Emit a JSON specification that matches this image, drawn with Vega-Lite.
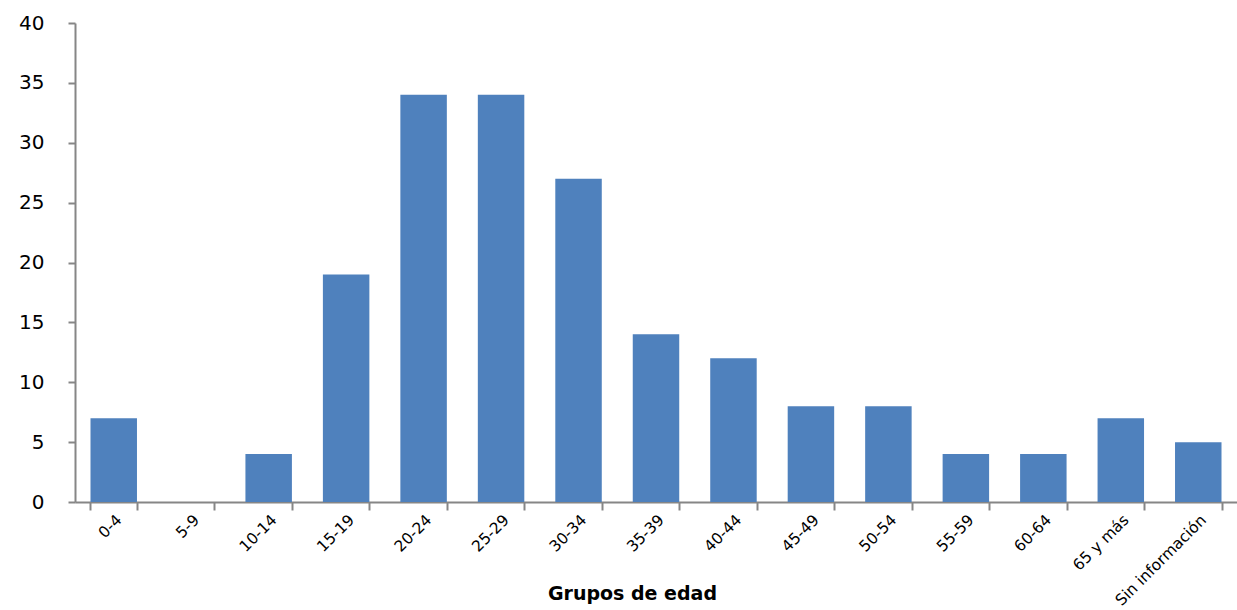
{
  "$schema": "https://vega.github.io/schema/vega-lite/v6.json",
  "width": 1162,
  "height": 479,
  "autosize": {"type": "none"},
  "padding": {"left": 75, "top": 23, "right": 0, "bottom": 108},
  "background": "white",
  "config": {"view": {"stroke": null}, "font": "Liberation Sans"},
  "data": {
    "values": [
      {"grupo": "0-4", "casos": 7},
      {"grupo": "5-9", "casos": 0},
      {"grupo": "10-14", "casos": 4},
      {"grupo": "15-19", "casos": 19},
      {"grupo": "20-24", "casos": 34},
      {"grupo": "25-29", "casos": 34},
      {"grupo": "30-34", "casos": 27},
      {"grupo": "35-39", "casos": 14},
      {"grupo": "40-44", "casos": 12},
      {"grupo": "45-49", "casos": 8},
      {"grupo": "50-54", "casos": 8},
      {"grupo": "55-59", "casos": 4},
      {"grupo": "60-64", "casos": 4},
      {"grupo": "65 y más", "casos": 7},
      {"grupo": "Sin información", "casos": 5}
    ]
  },
  "mark": {"type": "bar", "color": "#4F81BD"},
  "encoding": {
    "x": {
      "field": "grupo",
      "type": "nominal",
      "sort": null,
      "scale": {"paddingInner": 0.4, "paddingOuter": 0.2},
      "axis": {
        "title": "Grupos de edad",
        "titleFont": "DejaVu Sans",
        "titleFontSize": 19,
        "titleFontWeight": "bold",
        "titleColor": "#000000",
        "titleX": 557,
        "titleY": 97,
        "titleAlign": "center",
        "titleBaseline": "alphabetic",
        "labelAngle": -45,
        "labelFont": "DejaVu Sans",
        "labelFontSize": 15.5,
        "labelColor": "#000000",
        "labelPadding": 2,
        "tickBand": "extent",
        "tickSize": 8,
        "tickWidth": 2,
        "tickColor": "#868686",
        "domainColor": "#868686",
        "domainWidth": 2,
        "grid": false
      }
    },
    "y": {
      "field": "casos",
      "type": "quantitative",
      "scale": {"domain": [0, 40], "nice": false},
      "axis": {
        "title": null,
        "values": [0, 5, 10, 15, 20, 25, 30, 35, 40],
        "labelFont": "DejaVu Sans",
        "labelFontSize": 20,
        "labelColor": "#000000",
        "labelPadding": 24,
        "tickSize": 7,
        "tickWidth": 2,
        "tickColor": "#868686",
        "domainColor": "#868686",
        "domainWidth": 2,
        "grid": false
      }
    }
  }
}
